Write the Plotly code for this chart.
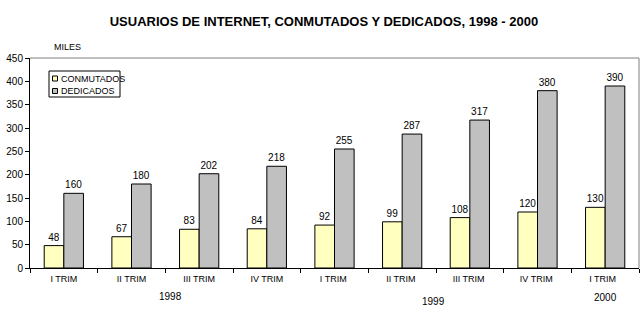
import plotly.graph_objects as go

# Quarterly internet users (thousands), 1998 - 2000
quarters = ["I TRIM", "II TRIM", "III TRIM", "IV TRIM", "I TRIM ", "II TRIM ", "III TRIM ", "IV TRIM ", "I TRIM  "]
conmutados = [48, 67, 83, 84, 92, 99, 108, 120, 130]
dedicados = [160, 180, 202, 218, 255, 287, 317, 380, 390]
years = ["1998", "1999", "2000"]
series_names = ["CONMUTADOS", "DEDICADOS"]
series_colors = ["#FFFFC0", "#C0C0C0"]

label_font = dict(family="Liberation Sans, Arial", size=10, color="black")

fig = go.Figure()
for name, vals, col in zip(series_names, [conmutados, dedicados], series_colors):
    fig.add_bar(
        x=quarters, y=vals, name=name,
        marker=dict(color=col, line=dict(color="black", width=1)),
        text=[str(v) for v in vals], textposition="outside",
        textfont=label_font, cliponaxis=False,
    )

# plot area in pixels: x 30..639, y 58..268
L, R, T, B = 30, 639, 58, 268
W, H = R - L, B - T


def px(x):
    return (x - L) / W


def py(y):
    return (B - y) / H


fig.update_layout(
    width=644, height=335,
    margin=dict(l=L, r=644 - R, t=T, b=335 - B),
    paper_bgcolor="white", plot_bgcolor="white",
    barmode="group", bargap=0.42, bargroupgap=0,
    showlegend=False,
    title=dict(
        text="<b>USUARIOS DE INTERNET, CONMUTADOS Y DEDICADOS, 1998 - 2000</b>",
        x=0.503, xanchor="center", y=0.935, yanchor="middle",
        font=dict(family="Liberation Sans Narrow, Arial Narrow, Liberation Sans", size=13, color="black"),
    ),
    font=dict(family="Liberation Sans, Arial", size=10, color="black"),
)

fig.update_xaxes(
    showline=True, linecolor="black", linewidth=1,
    ticks="outside", tickson="boundaries", ticklen=4, tickcolor="black",
    ticklabelstandoff=2,
    tickfont=dict(family="Liberation Sans, Arial", size=9, color="black"),
    showgrid=False, zeroline=False,
)
fig.update_yaxes(
    range=[0, 450], dtick=50,
    showline=True, linecolor="black", linewidth=1,
    ticks="outside", ticklen=4, tickcolor="black",
    tickfont=dict(family="Liberation Sans, Arial", size=10, color="black"),
    showgrid=False, zeroline=False,
)

# Gray frame on top and right of the plotting area
fig.add_shape(type="line", xref="paper", yref="paper", x0=0, x1=1, y0=1, y1=1,
              line=dict(color="#808080", width=1))
fig.add_shape(type="line", xref="paper", yref="paper", x0=1, x1=1, y0=0, y1=1,
              line=dict(color="#808080", width=1))

# Compact boxed legend
fig.add_shape(type="rect", xref="paper", yref="paper",
              x0=px(49), x1=px(120), y0=py(97), y1=py(71),
              line=dict(color="black", width=1), fillcolor="white", layer="above")
for i, (name, col) in enumerate(zip(series_names, series_colors)):
    cy = 78.5 + i * 12.5
    fig.add_shape(type="rect", xref="paper", yref="paper",
                  x0=px(52.5), x1=px(57.5), y0=py(cy + 2.5), y1=py(cy - 2.5),
                  line=dict(color="black", width=1), fillcolor=col, layer="above")
    fig.add_annotation(text=name, xref="paper", yref="paper", x=px(59), y=py(cy),
                       xanchor="left", yanchor="middle", showarrow=False,
                       font=dict(family="Liberation Sans, Arial", size=9, color="black"))

# Units label and year labels
fig.add_annotation(text="MILES", xref="paper", yref="paper", x=px(52), y=py(47),
                   xanchor="left", yanchor="middle", showarrow=False,
                   font=dict(family="Liberation Sans, Arial", size=9, color="black"))
year_pos = [(1.57, 296), (5.47, 301), (8.0, 297)]
for yr, (xp, ypix) in zip(years, year_pos):
    fig.add_annotation(text=yr, xref="x", yref="paper", x=xp,
                       y=py(ypix), yanchor="middle", showarrow=False,
                       font=dict(family="Liberation Sans Narrow, Arial Narrow, Liberation Sans", size=10, color="black"))

fig.write_html("out.html")
